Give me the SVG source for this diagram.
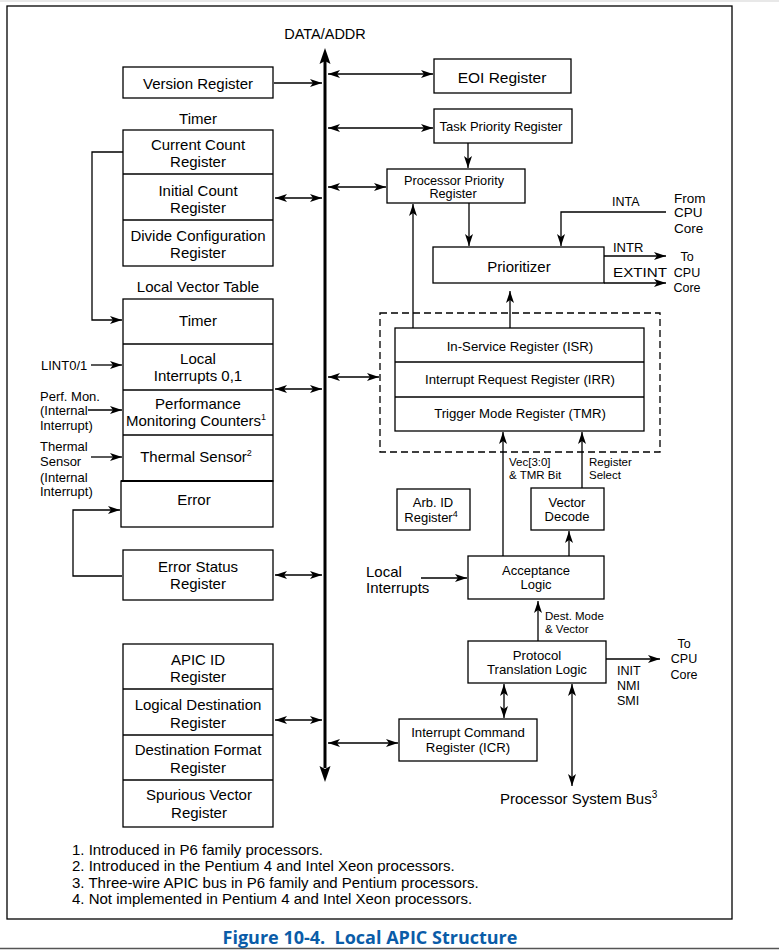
<svg xmlns="http://www.w3.org/2000/svg" width="779" height="950" viewBox="0 0 779 950">
<defs>
<style>
.b{fill:#fff;stroke:#000;stroke-width:1.3}
.d{fill:none;stroke:#000;stroke-width:1.3}
.c{fill:none;stroke:#000;stroke-width:1.3}
.ar{marker-end:url(#ah)}
.bi{marker-start:url(#ah);marker-end:url(#ah)}
text{font-family:"Liberation Sans",Arial,sans-serif;fill:#000}
.t{font-size:15px;text-anchor:middle}
.m{font-size:13px;text-anchor:middle}
.ms{font-size:13px}
.sm{font-size:11.5px}
.sup{font-size:9px}
.cap{font-family:"Open Sans","Liberation Sans",sans-serif;font-size:18px;font-weight:bold;fill:#0a5ca8;text-anchor:middle}
</style>
<marker id="ah" viewBox="0 0 12 8" refX="12" refY="4" markerWidth="12" markerHeight="8" markerUnits="userSpaceOnUse" orient="auto-start-reverse">
<path d="M0,0 L12,4 L0,8 L3,4 Z" fill="#000"/>
</marker>
</defs>
<rect x="0" y="0" width="779" height="950" fill="#fff"/>
<rect x="0" y="0" width="779" height="2" fill="#e8e8e8"/>
<rect x="7" y="6" width="725" height="913" fill="none" stroke="#000" stroke-width="1.3"/>
<line x1="0" y1="948.5" x2="779" y2="948.5" stroke="#555" stroke-width="1.5"/>

<g id="bus">
<line x1="325" y1="60" x2="325" y2="768" stroke="#000" stroke-width="3"/>
<path d="M325,48 L330.5,64 L325,61 L319.5,64 Z" fill="#000"/>
<path d="M325,782 L330.5,766 L325,769 L319.5,766 Z" fill="#000"/>
<text class="t" x="325" y="39" style="font-size:14.5px">DATA/ADDR</text>
</g>

<g id="version-register">
<rect class="b" x="123" y="67" width="150" height="31"/>
<text class="t" x="198" y="89">Version Register</text>
</g>

<g id="timer">
<text class="t" x="198" y="124">Timer</text>
<rect class="b" x="123" y="130" width="150" height="136"/>
<line class="d" x1="123" y1="174" x2="273" y2="174"/>
<line class="d" x1="123" y1="220" x2="273" y2="220"/>
<text class="t" x="198" y="149.5">Current Count</text>
<text class="t" x="198" y="167">Register</text>
<text class="t" x="198" y="195.5">Initial Count</text>
<text class="t" x="198" y="212.5">Register</text>
<text class="t" x="198" y="240.5">Divide Configuration</text>
<text class="t" x="198" y="258">Register</text>
</g>

<g id="local-vector-table">
<text class="t" x="198" y="292">Local Vector Table</text>
<rect class="b" x="123" y="299" width="150" height="182"/>
<line class="d" x1="123" y1="344" x2="273" y2="344"/>
<line class="d" x1="123" y1="390" x2="273" y2="390"/>
<line class="d" x1="123" y1="435" x2="273" y2="435"/>
<text class="t" x="198" y="326">Timer</text>
<text class="t" x="198" y="363.5">Local</text>
<text class="t" x="198" y="380.5">Interrupts 0,1</text>
<text class="t" x="198" y="408.5">Performance</text>
<text class="t" x="196" y="426">Monitoring Counters<tspan class="sup" dy="-6">1</tspan></text>
<text class="t" x="196" y="462">Thermal Sensor<tspan class="sup" dy="-6">2</tspan></text>
</g>

<g id="error">
<rect class="b" x="121" y="481" width="152" height="46"/>
<line x1="121" y1="481" x2="273" y2="481" stroke="#000" stroke-width="2.2"/>
<text class="t" x="194" y="505">Error</text>
</g>

<g id="error-status-register">
<rect class="b" x="123" y="550" width="150" height="50"/>
<text class="t" x="198" y="572">Error Status</text>
<text class="t" x="198" y="589">Register</text>
</g>

<g id="apic-id-group">
<rect class="b" x="123" y="644" width="150" height="183"/>
<line class="d" x1="123" y1="689" x2="273" y2="689"/>
<line class="d" x1="123" y1="735" x2="273" y2="735"/>
<line class="d" x1="123" y1="780" x2="273" y2="780"/>
<text class="t" x="198" y="664.5">APIC ID</text>
<text class="t" x="198" y="681.5">Register</text>
<text class="t" x="198" y="709.5">Logical Destination</text>
<text class="t" x="198" y="727.5">Register</text>
<text class="t" x="198" y="755">Destination Format</text>
<text class="t" x="198" y="773">Register</text>
<text class="t" x="199" y="799.5">Spurious Vector</text>
<text class="t" x="199" y="818">Register</text>
</g>

<g id="inputs-left">
<text class="ms" x="41" y="369.5">LINT0/1</text>
<text class="ms" x="40" y="400.5">Perf. Mon.</text>
<text class="ms" x="40" y="415">(Internal</text>
<text class="ms" x="40" y="429.5">Interrupt)</text>
<text class="ms" x="40" y="451">Thermal</text>
<text class="ms" x="40" y="466">Sensor</text>
<text class="ms" x="40" y="481.5">(Internal</text>
<text class="ms" x="40" y="496">Interrupt)</text>
</g>

<g id="eoi-register">
<rect class="b" x="434" y="59" width="137" height="34"/>
<text class="t" x="502" y="83" style="font-size:15.5px">EOI Register</text>
</g>

<g id="task-priority-register">
<rect class="b" x="434" y="109" width="138" height="34"/>
<text class="m" x="501" y="130.5">Task Priority Register</text>
</g>

<g id="processor-priority-register">
<rect class="b" x="387" y="169" width="138" height="34"/>
<text class="m" x="454" y="184.5" style="font-size:12.7px">Processor Priority</text>
<text class="m" x="453" y="198" style="font-size:12.7px">Register</text>
</g>

<g id="prioritizer">
<rect class="b" x="433" y="247" width="171" height="36"/>
<text class="t" x="519" y="272">Prioritizer</text>
</g>

<g id="cpu-core-labels">
<text class="ms" x="612" y="205.5" style="font-size:12.5px">INTA</text>
<text class="ms" x="674" y="202.5" style="font-size:13.5px">From</text>
<text class="ms" x="674" y="217" style="font-size:13.5px">CPU</text>
<text class="ms" x="674" y="233" style="font-size:13.5px">Core</text>
<text class="ms" x="613" y="251.5">INTR</text>
<text class="ms" x="613" y="277" textLength="54" lengthAdjust="spacingAndGlyphs">EXTINT</text>
<text class="m" x="687" y="261" style="font-size:12.5px">To</text>
<text class="m" x="687" y="276.5" style="font-size:12.5px">CPU</text>
<text class="m" x="687" y="292" style="font-size:12.5px">Core</text>
</g>

<g id="isr-irr-tmr">
<rect x="380" y="313" width="280" height="139" fill="none" stroke="#000" stroke-width="1.3" stroke-dasharray="7 4"/>
<rect class="b" x="395" y="328" width="249" height="103"/>
<line class="d" x1="395" y1="362" x2="644" y2="362"/>
<line class="d" x1="395" y1="397" x2="644" y2="397"/>
<text class="m" x="520" y="350.5" style="font-size:13.2px">In-Service Register (ISR)</text>
<text class="m" x="520" y="383.5" style="font-size:13.2px">Interrupt Request Register (IRR)</text>
<text class="m" x="520" y="417.5" style="font-size:13.2px">Trigger Mode Register (TMR)</text>
</g>

<g id="arb-id-register">
<rect class="b" x="397" y="489" width="73" height="41"/>
<text class="m" x="433" y="507">Arb. ID</text>
<text class="m" x="431" y="522">Register<tspan class="sup" dy="-5">4</tspan></text>
</g>

<g id="vector-decode">
<rect class="b" x="531" y="488" width="73" height="42"/>
<text class="m" x="567" y="507">Vector</text>
<text class="m" x="567" y="520.5">Decode</text>
</g>

<g id="acceptance-logic">
<rect class="b" x="468" y="556" width="136" height="43"/>
<text class="m" x="536" y="575">Acceptance</text>
<text class="m" x="536" y="589">Logic</text>
</g>

<g id="local-interrupts-label">
<text x="366" y="576.5" style="font-size:15px">Local</text>
<text x="366" y="592.5" style="font-size:15px">Interrupts</text>
</g>

<g id="protocol-translation-logic">
<rect class="b" x="468" y="641" width="138" height="42"/>
<text class="m" x="537" y="659.5" style="font-size:13.2px">Protocol</text>
<text class="m" x="537" y="674" style="font-size:13.2px">Translation Logic</text>
</g>

<g id="init-labels">
<text class="ms" x="617" y="675" style="font-size:12.5px">INIT</text>
<text class="ms" x="617" y="690" style="font-size:12.5px">NMI</text>
<text class="ms" x="617" y="704.5" style="font-size:12.5px">SMI</text>
<text class="m" x="684" y="648" style="font-size:12.5px">To</text>
<text class="m" x="684" y="663" style="font-size:12.5px">CPU</text>
<text class="m" x="684" y="678.5" style="font-size:12.5px">Core</text>
</g>

<g id="icr">
<rect class="b" x="399" y="719" width="138" height="42"/>
<text class="m" x="468" y="736.5" style="font-size:13.2px">Interrupt Command</text>
<text class="m" x="468" y="752" style="font-size:13.2px">Register (ICR)</text>
</g>

<g id="processor-system-bus">
<text x="500" y="803.5" style="font-size:15px">Processor System Bus<tspan dy="-6" style="font-size:10px">3</tspan></text>
</g>

<g id="edge-labels">
<text class="sm" x="509" y="466">Vec[3:0]</text>
<text class="sm" x="509" y="478.5">&amp; TMR Bit</text>
<text class="sm" x="589" y="466">Register</text>
<text class="sm" x="589" y="478.5">Select</text>
<text class="sm" x="545" y="620">Dest. Mode</text>
<text class="sm" x="545" y="633">&amp; Vector</text>
</g>

<g id="connectors">
<line class="c ar" x1="274" y1="83" x2="322" y2="83"/>
<line class="c bi" x1="275" y1="198" x2="322" y2="198"/>
<line class="c bi" x1="275" y1="389" x2="322" y2="389"/>
<line class="c bi" x1="275" y1="575" x2="322" y2="575"/>
<line class="c bi" x1="275" y1="720" x2="322" y2="720"/>
<polyline class="c ar" points="123,152 92,152 92,320 122,320"/>
<polyline class="c ar" points="122,576 73,576 73,510 120,510"/>
<line class="c ar" x1="91" y1="365" x2="122" y2="365"/>
<line class="c ar" x1="88" y1="410" x2="122" y2="410"/>
<line class="c ar" x1="91" y1="457" x2="122" y2="457"/>
<line class="c bi" x1="328" y1="74" x2="433" y2="74"/>
<line class="c bi" x1="328" y1="128" x2="433" y2="128"/>
<line class="c bi" x1="328" y1="187" x2="386" y2="187"/>
<line class="c bi" x1="328" y1="377" x2="379" y2="377"/>
<line class="c bi" x1="328" y1="743" x2="398" y2="743"/>
<line class="c ar" x1="468" y1="143" x2="468" y2="168"/>
<line class="c ar" x1="469" y1="203" x2="469" y2="246"/>
<line class="c ar" x1="413" y1="328" x2="413" y2="204"/>
<line class="c ar" x1="510" y1="328" x2="510" y2="291"/>
<polyline class="c ar" points="666,212 561,212 561,246"/>
<line class="c ar" x1="604" y1="256" x2="666" y2="256"/>
<line class="c ar" x1="604" y1="283" x2="666" y2="283"/>
<line class="c ar" x1="503" y1="556" x2="503" y2="432"/>
<line class="c ar" x1="582" y1="488" x2="582" y2="432"/>
<line class="c ar" x1="569" y1="556" x2="569" y2="531"/>
<line class="c ar" x1="421" y1="578" x2="467" y2="578"/>
<line class="c ar" x1="538" y1="641" x2="538" y2="601"/>
<line class="c ar" x1="606" y1="659" x2="660" y2="659"/>
<line class="c bi" x1="504" y1="684" x2="504" y2="718"/>
<line class="c bi" x1="572" y1="684" x2="572" y2="786"/>
</g>

<g id="footnotes">
<text x="72" y="854.5" style="font-size:15px">1. Introduced in P6 family processors.</text>
<text x="72" y="871" style="font-size:15px">2. Introduced in the Pentium 4 and Intel Xeon processors.</text>
<text x="72" y="887.5" style="font-size:15px">3. Three-wire APIC bus in P6 family and Pentium processors.</text>
<text x="72" y="904" style="font-size:15px">4. Not implemented in Pentium 4 and Intel Xeon processors.</text>
</g>

<text class="cap" x="370" y="944">Figure 10-4.&#160; Local APIC Structure</text>
</svg>
